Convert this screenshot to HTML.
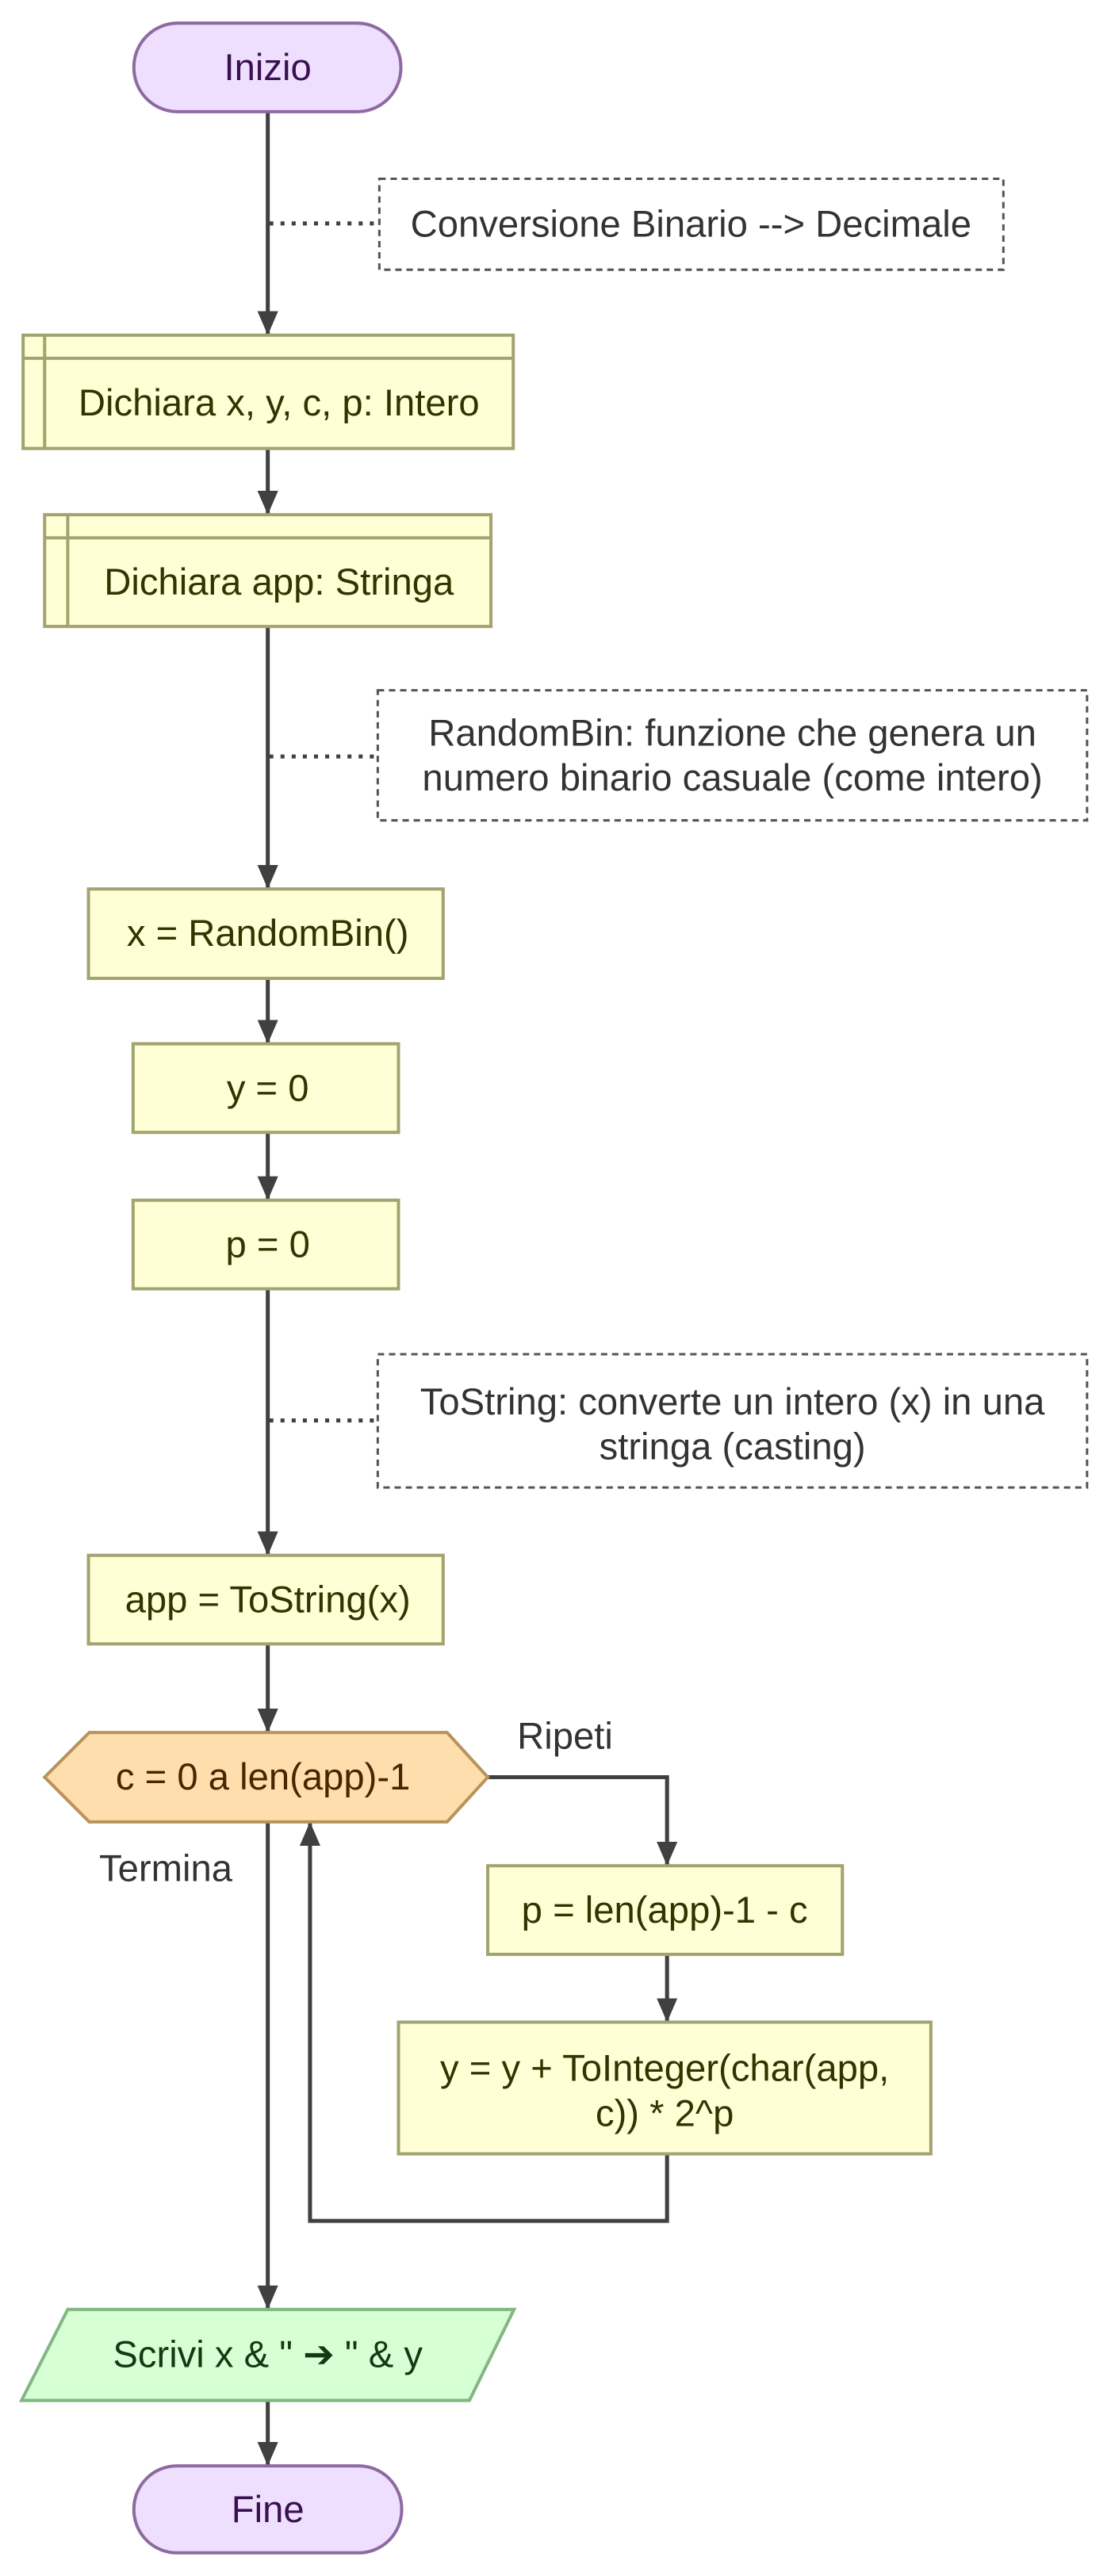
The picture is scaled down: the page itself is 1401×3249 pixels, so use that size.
<!DOCTYPE html>
<html><head><meta charset="utf-8"><style>
html,body{margin:0;padding:0;background:#fff}
svg{display:block}
text{font-family:"Liberation Sans",Arial,sans-serif;font-size:47px;text-anchor:middle;dominant-baseline:central}
</style></head><body>
<svg width="1401" height="3249" viewBox="0 0 1401 3249" xmlns="http://www.w3.org/2000/svg">
<defs>
<marker id="a" markerUnits="userSpaceOnUse" markerWidth="30" markerHeight="26" refX="30" refY="13" orient="auto">
<path d="M0,0 L30,13 L0,26 z" fill="#404040"/>
</marker>
</defs>
<g transform="scale(1.005,1.0065)">
<g stroke="#404040" stroke-width="5" fill="none">
<line x1="336" y1="140" x2="336" y2="420" marker-end="url(#a)"/>
<line x1="336" y1="562" x2="336" y2="645" marker-end="url(#a)"/>
<line x1="336" y1="785" x2="336" y2="1114" marker-end="url(#a)"/>
<line x1="336" y1="1226" x2="336" y2="1308" marker-end="url(#a)"/>
<line x1="336" y1="1419" x2="336" y2="1504" marker-end="url(#a)"/>
<line x1="336" y1="1615" x2="336" y2="1949" marker-end="url(#a)"/>
<line x1="336" y1="2060" x2="336" y2="2171" marker-end="url(#a)"/>
<line x1="336" y1="2283" x2="336" y2="2894" marker-end="url(#a)"/>
<line x1="336" y1="3008" x2="336" y2="3090" marker-end="url(#a)"/>
<polyline points="612,2227 837,2227 837,2338" marker-end="url(#a)"/>
<line x1="837" y1="2449" x2="837" y2="2534" marker-end="url(#a)"/>
<polyline points="837,2699 837,2783 389,2783 389,2283" marker-end="url(#a)"/>
</g>
<g stroke="#404040" stroke-width="5" stroke-dasharray="5,9">
<line x1="338" y1="280" x2="474" y2="280"/>
<line x1="338" y1="948" x2="474" y2="948"/>
<line x1="338" y1="1780" x2="474" y2="1780"/>
</g>
<g stroke="#555" stroke-width="3" stroke-dasharray="8,6" fill="#fff">
<rect x="476" y="224" width="783" height="114"/>
<rect x="474" y="865" width="890" height="163"/>
<rect x="474" y="1697" width="890" height="167"/>
</g>
<g fill="#333">
<text x="867" y="281">Conversione Binario --&gt; Decimale</text>
<text x="919" y="919">RandomBin: funzione che genera un</text>
<text x="919" y="975">numero binario casuale (come intero)</text>
<text x="919" y="1757">ToString: converte un intero (x) in una</text>
<text x="919" y="1813">stringa (casting)</text>
<text x="709" y="2176">Ripeti</text>
<text x="208" y="2342">Termina</text>
</g>
<rect x="168" y="29" width="335" height="111" rx="55" fill="#eedfff" stroke="#8e6aa0" stroke-width="4"/>
<text x="336" y="85" fill="#3a1050">Inizio</text>
<rect x="168" y="3090" width="336" height="109" rx="54" fill="#eedfff" stroke="#8e6aa0" stroke-width="4"/>
<text x="336" y="3145" fill="#3a1050">Fine</text>
<g fill="#ffffd6" stroke="#a3a370" stroke-width="4">
<rect x="29" y="420" width="615" height="142"/>
<line x1="56" y1="420" x2="56" y2="562"/><line x1="29" y1="449" x2="644" y2="449"/>
<rect x="56" y="645" width="560" height="140"/>
<line x1="85" y1="645" x2="85" y2="785"/><line x1="56" y1="674" x2="616" y2="674"/>
<rect x="111" y="1114" width="445" height="112"/>
<rect x="167" y="1308" width="333" height="111"/>
<rect x="167" y="1504" width="333" height="111"/>
<rect x="111" y="1949" width="445" height="111"/>
<rect x="612" y="2338" width="445" height="111"/>
<rect x="500" y="2534" width="668" height="165"/>
</g>
<g fill="#333300">
<text x="350" y="505">Dichiara x, y, c, p: Intero</text>
<text x="350" y="730">Dichiara app: Stringa</text>
<text x="336" y="1170">x = RandomBin()</text>
<text x="336" y="1364">y = 0</text>
<text x="336" y="1560">p = 0</text>
<text x="336" y="2005">app = ToString(x)</text>
<text x="834" y="2394">p = len(app)-1 - c</text>
<text x="834" y="2592">y = y + ToInteger(char(app,</text>
<text x="834" y="2649">c)) * 2^p</text>
</g>
<polygon points="56,2227 112,2171 561,2171 612,2227 561,2283 112,2283" fill="#ffdeae" stroke="#b8935b" stroke-width="4"/>
<text x="330" y="2227" fill="#4a2500">c = 0 a len(app)-1</text>
<polygon points="85,2894 645,2894 589,3008 27,3008" fill="#d6ffd6" stroke="#82b782" stroke-width="4"/>
<text x="336" y="2951" fill="#123a12">Scrivi x &amp; " ➔ " &amp; y</text>
</g>
</svg>
</body></html>
